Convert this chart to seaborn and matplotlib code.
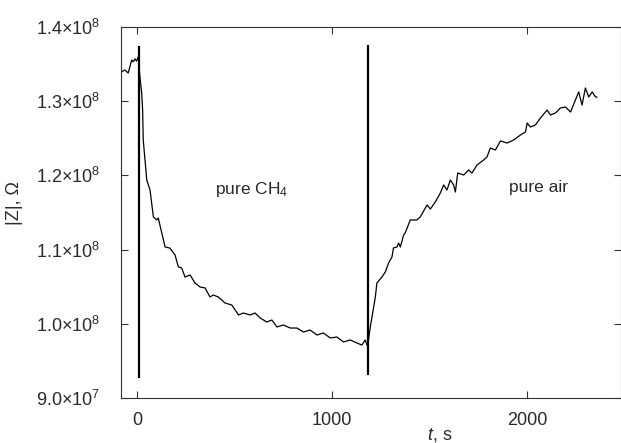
import numpy as np
import pandas as pd
import matplotlib
matplotlib.use("Agg")
import matplotlib.pyplot as plt
import seaborn as sns
from matplotlib.ticker import FuncFormatter

# |Z| trace
t = [-78, -62, -45, -27, -19, -10, -2, 7, 15, 24, 29, 32, 41, 50, 67, 84, 101, 109,
     127, 144, 169, 195, 212, 229, 246, 272, 297, 323, 349, 374, 391, 417, 451, 486,
     520, 545, 579, 605, 631, 665, 691, 717, 750, 785, 819, 853, 887, 922, 955, 990,
     1024, 1058, 1092, 1127, 1152, 1169, 1178, 1186, 1195, 1204, 1221, 1229, 1255,
     1272, 1289, 1306, 1314, 1332, 1340, 1349, 1366, 1374, 1400, 1434, 1451, 1486,
     1503, 1528, 1554, 1571, 1588, 1605, 1622, 1631, 1643, 1674, 1699, 1716, 1742,
     1776, 1793, 1810, 1836, 1862, 1896, 1930, 1964, 1990, 1999, 2015, 2041, 2067,
     2101, 2118, 2144, 2169, 2195, 2221, 2246, 2263, 2280, 2297, 2314, 2332, 2349, 2357]
z = [1.3398, 1.342, 1.338, 1.3555, 1.353, 1.357, 1.354, 1.360, 1.3326, 1.311, 1.288,
     1.248, 1.221, 1.194, 1.180, 1.144, 1.140, 1.1426, 1.1224, 1.1035, 1.102, 1.0927,
     1.0766, 1.0752, 1.0631, 1.0658, 1.055, 1.0496, 1.0483, 1.0361, 1.0388, 1.0361,
     1.028, 1.0253, 1.0119, 1.0145, 1.0119, 1.0145, 1.0078, 1.0024, 1.0051, 0.9957,
     0.9984, 0.9943, 0.9943, 0.9889, 0.9916, 0.9849, 0.9876, 0.9809, 0.9822, 0.9755,
     0.9782, 0.9741, 0.9714, 0.9782, 0.9714, 0.9782, 0.9957, 1.0092, 1.0361, 1.055,
     1.0631, 1.0698, 1.0819, 1.09, 1.1022, 1.1035, 1.1089, 1.1035, 1.1197, 1.1224,
     1.1399, 1.1399, 1.1439, 1.1601, 1.1547, 1.1641, 1.1763, 1.1871, 1.1803, 1.1938,
     1.1871, 1.1776, 1.2032, 1.2005, 1.2073, 1.2032, 1.214, 1.2208, 1.2248, 1.2369,
     1.2342, 1.2464, 1.2436, 1.2477, 1.2544, 1.2585, 1.2706, 1.2652, 1.2679, 1.2774,
     1.2881, 1.2814, 1.2841, 1.2908, 1.2922, 1.2854, 1.3016, 1.3124, 1.2949, 1.3178,
     1.3057, 1.3124, 1.3057, 1.3055]
z = [v * 1e8 for v in z]

# gas switching markers
switch_t = [10, 1183]
switch_lo = [0.927e8, 0.931e8]
switch_hi = [1.3744e8, 1.3757e8]

labels = ["pure CH$_4$", "pure air"]
label_t = [585, 2057]
label_z = [1.181e8, 1.183e8]

yticks = [0.9e8, 1.0e8, 1.1e8, 1.2e8, 1.3e8, 1.4e8]
xticks = [0, 1000, 2000]

sns.set_style("ticks")
plt.rcParams["font.family"] = ["Liberation Sans", "DejaVu Sans"]
plt.rcParams["mathtext.fontset"] = "custom"
plt.rcParams["mathtext.rm"] = "Liberation Sans"
plt.rcParams["mathtext.it"] = "Liberation Sans:italic"
plt.rcParams["xtick.direction"] = "in"
plt.rcParams["ytick.direction"] = "in"

txt = "#2a2a2a"
fs = 13
df = pd.DataFrame({"t": t, "z": z})

fig = plt.figure(figsize=(6.21, 4.43), dpi=100)
ax = fig.add_axes([0.1948, 0.1016, 0.806, 0.8375])

sns.lineplot(data=df, x="t", y="z", sort=False, estimator=None,
             color="black", lw=0.9, ax=ax)
ax.vlines(switch_t, switch_lo, switch_hi, color="black", lw=1.6)

for s, xt, yt in zip(labels, label_t, label_z):
    ax.text(xt, yt, s, ha="center", va="center", fontsize=12.5, color=txt)

ax.set_xlim(-82, 2482)
ax.set_ylim(0.9e8, 1.4e8)
ax.set_xticks(xticks)
ax.set_yticks(yticks)


def sci(v, pos):
    e = int(np.floor(np.log10(v) + 1e-9))
    m = v / 10 ** e
    return r"%.1f$\times$10$^{%d}$" % (m, e)


ax.yaxis.set_major_formatter(FuncFormatter(sci))
ax.tick_params(axis="both", length=5, width=0.8, top=True, right=True,
               labelsize=fs, labelcolor=txt, color="#333333")
ax.tick_params(axis="y", pad=15)
ax.tick_params(axis="x", pad=10)

for sp in ax.spines.values():
    sp.set_linewidth(0.8)
    sp.set_color("#333333")

ax.set_xlabel("$t$, s", fontsize=fs, color=txt)
ax.xaxis.set_label_coords(0.637, -0.075)
ax.set_ylabel("|Z|, Ω", fontsize=fs, color=txt)
ax.yaxis.set_label_coords(-0.196, 0.526)

fig.savefig("out.png", dpi=100)
